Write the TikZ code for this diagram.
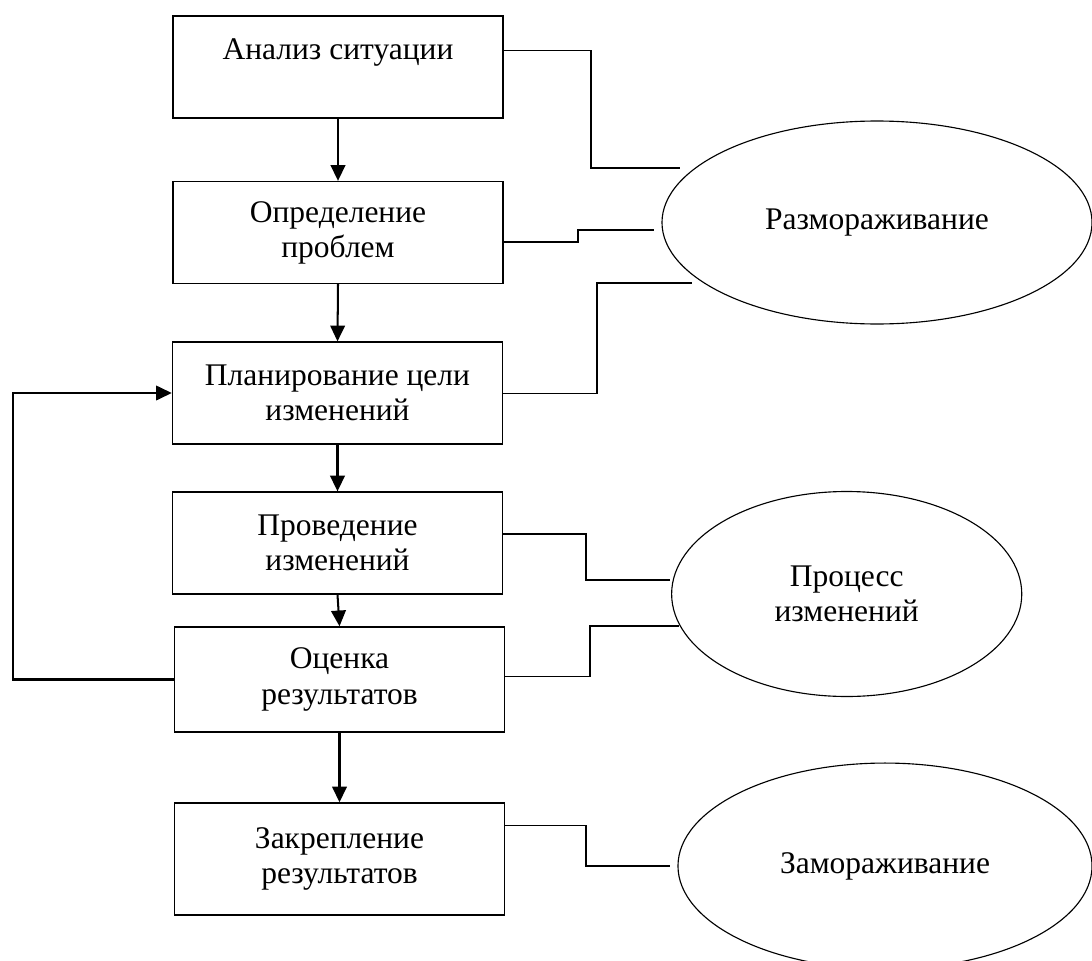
\documentclass[tikz,border=0pt]{standalone}
\usepackage{fontspec}
\setmainfont{Liberation Serif}
\usetikzlibrary{arrows.meta,shapes.geometric}

\begin{document}
\begin{tikzpicture}[x=0.4444pt,y=-0.4444pt,
    font=\fontsize{14pt}{15.6pt}\selectfont,
    etap/.style={draw,line width=0.6pt,align=center,minimum width=146.7pt,
      minimum height=45.3pt,inner sep=2pt},
    faza/.style={draw,ellipse,line width=0.5pt,align=center,inner sep=0pt},
    strelka/.style={line width=0.9pt,-{Triangle[length=7pt,width=6.5pt]}},
    svyaz/.style={line width=0.5pt}]
  %% page = picture (pixels of the sketch)
  \useasboundingbox (0,0) rectangle (1092,961);

  %% stages
  \node[etap] (analiz) at (338,67) {Анализ ситуации\\ \mbox{}};
  \node[etap] (opred) at (338,232.5) {Определение\\проблем};
  \node[etap] (plan) at (337.5,393) {Планирование цели\\изменений};
  \node[etap] (proved) at (337.5,543) {Проведение\\изменений};
  \node[etap,minimum height=46.7pt] (ocenka) at (339.5,679.5) {Оценка\\результатов};
  \node[etap,minimum height=49.8pt] (zakrep) at (339.5,859) {Закрепление\\результатов};

  %% phases
  \node[faza,minimum width=191.1pt,minimum height=90.2pt] (razm) at (877,222.5) {Размораживание};
  \node[faza,minimum width=155.6pt,minimum height=91.1pt] (process) at (846.7,594) {Процесс\\изменений};
  \node[faza,minimum width=184pt,minimum height=91.5pt] (zamor) at (885,866) {Замораживание};

  \foreach \a/\b in {analiz/opred, opred/plan, plan/proved, proved/ocenka,
    ocenka/zakrep}
  \draw[strelka] (\a.south) -- (\b.north);
  \draw[strelka] (ocenka.west) -- ++(-161,0) |- (plan.west);

  %% links to the phases
  \coordinate (r1) at (680,168);
  \coordinate (r2) at (654,230);
  \coordinate (r3) at (692,283);
  \coordinate (p1) at (670,580);
  \coordinate (p2) at (679,626);
  \coordinate (z1) at (670,866);
  \foreach \b/\s/\t/\y/\e in {analiz/7.5/591/168/r1, opred/-4.2/578/230/r2,
    plan/-0.4/597/283/r3, proved/4/586/580/p1, ocenka/1.5/590/626/p2,
    zakrep/14.7/586/866/z1}
  \draw[svyaz] ([yshift=\s pt]\b.east) -| (\t,\y) -- (\e);
\end{tikzpicture}
\end{document}
